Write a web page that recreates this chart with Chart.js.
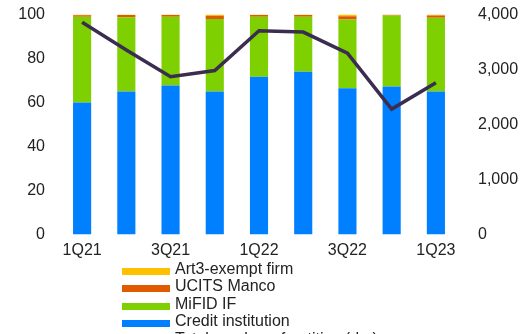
<!DOCTYPE html>
<html>
<head>
<meta charset="utf-8">
<script src="https://cdn.jsdelivr.net/npm/chart.js@4"></script>
<style>
  html, body { margin: 0; padding: 0; background: #fff; overflow: hidden; }
  #wrap { position: relative; width: 529px; height: 334px; }
  #legend { position: absolute; left: 122px; top: 260px; font: 16px "Liberation Sans", Arial, sans-serif; color: #222; }
  #legend div { height: 17.4px; line-height: 17.4px; white-space: nowrap; }
  #legend span { display: inline-block; width: 48px; height: 7px; margin-right: 5px; vertical-align: -1px; }
</style>
</head>
<body>
<div id="wrap">
  <canvas id="myChart" width="529" height="334"></canvas>
  <div id="legend"></div>
</div>
<script>
// 분기 라벨
const quarters = ['1Q21', '2Q21', '3Q21', '4Q21', '1Q22', '2Q22', '3Q22', '4Q22', '1Q23'];
// 비중 (%)
const creditInst = [60, 65, 67.7, 65, 71.7, 74, 66.5, 67.3, 65];
const mifidIF = [39, 33.8, 31.3, 33, 27.3, 25, 31.2, 32.2, 33.5];
const ucitsManco = [0.7, 1, 0.8, 1.4, 0.8, 0.8, 1.5, 0.4, 1];
const art3Exempt = [0.3, 0.2, 0.2, 0.6, 0.2, 0.2, 0.8, 0.1, 0.5];
// 총계 (오른쪽 축)
const totalCount = [3860, 3355, 2870, 2980, 3705, 3680, 3295, 2280, 2760];

const leftTicks = [0, 20, 40, 60, 80, 100];
const rightTicks = [0, 1000, 2000, 3000, 4000];

const font = { family: '"Liberation Sans", Arial, sans-serif', size: 16 };

const ctx = document.getElementById('myChart').getContext('2d');
const myChart = new Chart(ctx, {
    data: {
        labels: quarters,
        datasets: [
            { type: 'line', label: 'Total number of entities (rhs)', data: totalCount, yAxisID: 'y1',
              borderColor: '#3b2d4f', borderWidth: 3.5, pointRadius: 0, tension: 0, order: 0 },
            { type: 'bar', label: 'Credit institution', data: creditInst, backgroundColor: '#0080ff', order: 1 },
            { type: 'bar', label: 'MiFID IF', data: mifidIF, backgroundColor: '#7fd000', order: 1 },
            { type: 'bar', label: 'UCITS Manco', data: ucitsManco, backgroundColor: '#e05a00', order: 1 },
            { type: 'bar', label: 'Art3-exempt firm', data: art3Exempt, backgroundColor: '#ffc000', order: 1 }
        ]
    },
    options: {
        responsive: false,
        animation: false,
        layout: { padding: { top: 0, left: 0, right: 0, bottom: 0 } },
        datasets: { bar: { barPercentage: 0.41, categoryPercentage: 1 } },
        plugins: { legend: { display: false }, tooltip: { enabled: false } },
        scales: {
            x: {
                stacked: true,
                grid: { display: false, drawTicks: false },
                border: { display: false },
                ticks: {
                    autoSkip: false, maxRotation: 0, padding: 6, color: '#222', font: font,
                    callback: function(v, i) { return i % 2 === 0 ? quarters[i] : ''; }
                },
                afterFit: function(s) { s.height = 99.5; }
            },
            y: {
                stacked: true, min: 0, max: 100,
                grid: { display: false, drawTicks: false },
                border: { display: false },
                afterBuildTicks: function(s) { s.ticks = leftTicks.map(v => ({ value: v })); },
                ticks: { padding: 15, color: '#222', font: font },
                afterFit: function(s) { s.width = 60; s.paddingTop = 14.5; }
            },
            y1: {
                position: 'right', min: 0, max: 4000,
                grid: { display: false, drawTicks: false },
                border: { display: false },
                afterBuildTicks: function(s) { s.ticks = rightTicks.map(v => ({ value: v })); },
                ticks: { padding: 20, color: '#222', font: font,
                         callback: v => v.toLocaleString('en-US') },
                afterFit: function(s) { s.width = 71; s.paddingTop = 14.5; }
            }
        }
    }
});

// 범례 (세로 목록, 누적 순서 역순 + 선)
const legendOrder = [4, 3, 2, 1, 0];
const legendEl = document.getElementById('legend');
legendOrder.forEach(i => {
    const ds = myChart.data.datasets[i];
    const row = document.createElement('div');
    const sw = document.createElement('span');
    sw.style.background = ds.type === 'line' ? ds.borderColor : ds.backgroundColor;
    row.appendChild(sw);
    row.appendChild(document.createTextNode(ds.label));
    legendEl.appendChild(row);
});
</script>
</body>
</html>
